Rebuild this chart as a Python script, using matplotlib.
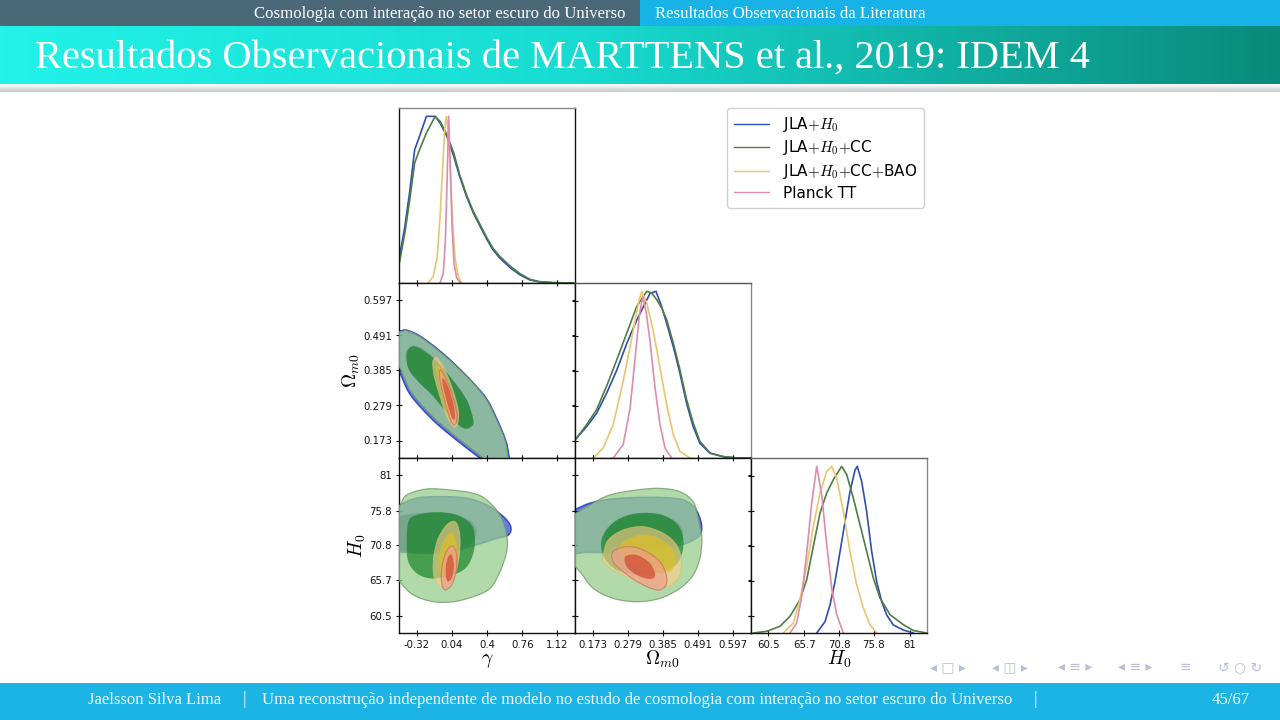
import numpy as np
import matplotlib
matplotlib.use("Agg")
import matplotlib.pyplot as plt
from matplotlib.path import Path
from matplotlib.patches import PathPatch, Rectangle
from matplotlib.lines import Line2D
from matplotlib.colors import LinearSegmentedColormap

plt.rcParams['mathtext.fontset'] = 'cm'
plt.rcParams['font.family'] = ['DejaVu Sans']

# ---------------- data ----------------
GAMMA_TICKS = [-0.32, 0.04, 0.4, 0.76, 1.12]
OMEGA_TICKS = [0.173, 0.279, 0.385, 0.491, 0.597]
H0_TICKS = [60.5, 65.7, 70.8, 75.8, 81]
GAMMA_LIM = (-0.5, 1.3)
OMEGA_LIM = (0.12, 0.65)
H0_LIM = (58, 83.5)

LABELS = ['JLA${+}H_0$', 'JLA${+}H_0{+}$CC', 'JLA${+}H_0{+}$CC${+}$BAO', 'Planck TT']

# 1D marginals (normalised to peak)
gam_x = [-0.50, -0.44, -0.39, -0.34, -0.29, -0.22, -0.13, -0.08, -0.01, 0.06, 0.12, 0.19,
         0.26, 0.33, 0.40, 0.46, 0.53, 0.64, 0.74, 0.84, 0.94, 1.08, 1.28]
gam_p_jla = [0.14, 0.34, 0.55, 0.80, 0.88, 1.0, 1.0, 0.96, 0.88, 0.76, 0.64, 0.52,
             0.42, 0.34, 0.26, 0.20, 0.15, 0.09, 0.048, 0.018, 0.006, 0.002, 0.0]
gam_p_cc = [0.11, 0.30, 0.50, 0.72, 0.80, 0.90, 1.0, 0.97, 0.89, 0.78, 0.65, 0.53,
            0.43, 0.35, 0.27, 0.21, 0.16, 0.10, 0.055, 0.022, 0.008, 0.002, 0.0]
gam_x_bao = [-0.20, -0.15, -0.11, -0.08, -0.053, -0.033, -0.016, 0.0, 0.022, 0.045, 0.073, 0.106, 0.14]
gam_p_bao = [0.0, 0.04, 0.15, 0.40, 0.70, 0.92, 1.0, 0.93, 0.70, 0.40, 0.15, 0.04, 0.0]
gam_x_pl = [-0.08, -0.047, -0.026, -0.009, 0.008, 0.025, 0.042, 0.062, 0.09, 0.13]
gam_p_pl = [0.0, 0.06, 0.25, 0.60, 1.0, 0.70, 0.35, 0.12, 0.03, 0.0]

om_x_jla = [0.12, 0.155, 0.185, 0.215, 0.246, 0.276, 0.306, 0.326, 0.346, 0.364, 0.381,
            0.396, 0.416, 0.436, 0.456, 0.476, 0.496, 0.527, 0.567, 0.607, 0.65]
om_p_jla = [0.108, 0.188, 0.268, 0.388, 0.528, 0.688, 0.828, 0.908, 0.988, 1.0, 0.908,
            0.808, 0.668, 0.508, 0.328, 0.188, 0.088, 0.028, 0.008, 0.0, 0.0]
om_x_cc = [0.12, 0.155, 0.185, 0.215, 0.246, 0.276, 0.306, 0.336, 0.351, 0.366, 0.381,
           0.396, 0.416, 0.436, 0.456, 0.476, 0.496, 0.527, 0.567, 0.607]
om_p_cc = [0.108, 0.20, 0.29, 0.43, 0.59, 0.75, 0.91, 1.0, 0.99, 0.95, 0.90,
           0.83, 0.69, 0.53, 0.35, 0.21, 0.10, 0.03, 0.008, 0.0]
om_x_bao = [0.175, 0.205, 0.235, 0.265, 0.291, 0.311, 0.321, 0.336, 0.356, 0.376, 0.396, 0.416, 0.436, 0.466]
om_p_bao = [0.0, 0.06, 0.20, 0.46, 0.72, 0.93, 1.0, 0.93, 0.76, 0.54, 0.32, 0.14, 0.04, 0.0]
om_x_pl = [0.235, 0.265, 0.286, 0.301, 0.314, 0.324, 0.334, 0.346, 0.361, 0.376, 0.391, 0.411]
om_p_pl = [0.0, 0.08, 0.30, 0.60, 0.86, 0.97, 0.88, 0.70, 0.42, 0.20, 0.06, 0.0]

h_x_jla = [67.52, 68.72, 69.45, 70.17, 70.90, 71.62, 72.34, 73.07, 73.40, 74.04, 74.76,
           75.49, 76.21, 76.94, 77.66, 78.62, 80.07, 81.52]
h_p_jla = [0.0, 0.068, 0.168, 0.308, 0.488, 0.668, 0.848, 0.978, 1.0, 0.908, 0.728,
           0.488, 0.308, 0.188, 0.108, 0.048, 0.018, 0.0]
h_x_cc = [58.33, 60.27, 62.20, 63.65, 65.10, 66.07, 67.03, 68.0, 68.97, 69.93, 71.14,
          71.87, 72.82, 73.79, 74.76, 75.72, 76.69, 78.14, 80.07, 81.52, 83.46]
h_p_cc = [0.0, 0.01, 0.04, 0.10, 0.20, 0.32, 0.52, 0.72, 0.84, 0.92, 1.0,
          0.95, 0.81, 0.65, 0.49, 0.33, 0.21, 0.11, 0.05, 0.015, 0.0]
h_x_bao = [62.68, 64.13, 65.10, 66.07, 67.03, 68.0, 68.97, 69.69, 70.42, 71.38, 72.34, 73.31, 74.27, 75.24, 76.21]
h_p_bao = [0.0, 0.06, 0.20, 0.40, 0.64, 0.84, 0.97, 1.0, 0.93, 0.73, 0.49, 0.29, 0.15, 0.05, 0.0]
h_x_pl = [63.65, 64.62, 65.35, 66.07, 66.80, 67.52, 68.24, 68.97, 69.69, 70.42, 71.38]
h_p_pl = [0.0, 0.06, 0.22, 0.48, 0.78, 1.0, 0.83, 0.53, 0.27, 0.11, 0.0]

# 2D contour outlines (68% / 95%), (x, y) in data units
om_g_jla_2s = [(-0.60, 0.51), (-0.49, 0.505), (-0.421, 0.507), (-0.285, 0.489), (-0.081, 0.444), (0.09, 0.398),
               (0.26, 0.347), (0.40, 0.297), (0.505, 0.235), (0.592, 0.172), (0.625, 0.124), (0.64, 0.08),
               (0.49, 0.08), (0.35, 0.115), (0.185, 0.152), (-0.09, 0.218), (-0.26, 0.268), (-0.397, 0.318),
               (-0.50, 0.384), (-0.60, 0.43)]
om_g_jla_1s = [(-0.43, 0.44), (-0.37, 0.46), (-0.28, 0.455), (-0.15, 0.425), (0.02, 0.368), (0.19, 0.298),
               (0.255, 0.238), (0.24, 0.218), (0.155, 0.213), (0.02, 0.248), (-0.15, 0.309), (-0.32, 0.359),
               (-0.41, 0.396)]
om_g_cc_2s = [(-0.60, 0.505), (-0.49, 0.5025), (-0.421, 0.5056), (-0.285, 0.487), (-0.081, 0.442), (0.09, 0.3965),
              (0.26, 0.346), (0.397, 0.2957), (0.499, 0.235), (0.584, 0.1745), (0.615, 0.124), (0.63, 0.08),
              (0.50, 0.08), (0.362, 0.12), (0.192, 0.159), (-0.081, 0.225), (-0.251, 0.275), (-0.387, 0.326),
              (-0.49, 0.392), (-0.60, 0.44)]
om_g_cc_1s = [(-0.421, 0.437), (-0.370, 0.457), (-0.285, 0.452), (-0.149, 0.422), (0.022, 0.366), (0.192, 0.296),
              (0.260, 0.235), (0.243, 0.215), (0.158, 0.210), (0.022, 0.245), (-0.149, 0.306), (-0.319, 0.356),
              (-0.405, 0.392)]
om_g_bao_2s = [(-0.149, 0.417), (-0.114, 0.425), (-0.047, 0.397), (0.039, 0.336), (0.106, 0.265), (0.096, 0.220),
               (0.055, 0.215), (-0.012, 0.245), (-0.081, 0.306), (-0.139, 0.366), (-0.155, 0.402)]
om_g_bao_1s = [(-0.108, 0.402), (-0.047, 0.381), (0.022, 0.326), (0.073, 0.265), (0.062, 0.235), (0.022, 0.235),
               (-0.030, 0.275), (-0.081, 0.336), (-0.114, 0.377)]
om_g_pl_2s = [(-0.081, 0.387), (-0.030, 0.366), (0.039, 0.316), (0.090, 0.255), (0.083, 0.225), (0.049, 0.223),
              (0.004, 0.255), (-0.047, 0.311), (-0.081, 0.356)]
om_g_pl_1s = [(-0.047, 0.361), (0.004, 0.336), (0.055, 0.286), (0.073, 0.245), (0.045, 0.240), (0.004, 0.275),
              (-0.037, 0.321), (-0.057, 0.351)]

h_g_jla_2s = [(-0.592, 75.67), (-0.490, 76.65), (-0.319, 77.63), (-0.081, 77.86), (0.192, 77.63), (0.397, 76.65),
              (0.567, 74.95), (0.642, 73.49), (0.618, 72.28), (0.499, 71.80), (0.260, 70.72), (0.022, 69.85),
              (-0.217, 69.61), (-0.421, 69.76), (-0.490, 69.85), (-0.592, 70.82)]
h_g_jla_1s = [(-0.541, 74.47), (-0.285, 75.48), (0.022, 75.48), (0.247, 74.17), (0.288, 72.28), (0.175, 70.39),
              (-0.081, 69.66), (-0.387, 69.80), (-0.541, 70.39)]
h_g_cc_2s = [(-0.592, 75.19), (-0.490, 76.65), (-0.421, 78.11), (-0.217, 78.98), (0.022, 78.84), (0.260, 78.36),
             (0.397, 77.38), (0.533, 75.19), (0.601, 72.28), (0.601, 69.85), (0.533, 66.93), (0.431, 64.51),
             (0.260, 63.29), (0.055, 62.56), (-0.149, 62.56), (-0.354, 63.54), (-0.490, 65.48), (-0.592, 67.91)]
h_g_cc_1s = [(-0.405, 74.22), (-0.319, 75.19), (-0.114, 75.59), (0.090, 75.19), (0.243, 73.74), (0.277, 71.30),
             (0.243, 68.88), (0.158, 67.18), (-0.012, 66.20), (-0.183, 65.97), (-0.319, 66.70), (-0.405, 68.39),
             (-0.421, 70.82)]
h_g_bao_2s = [(0.073, 74.22), (0.117, 72.76), (0.124, 70.82), (0.106, 68.39), (0.055, 65.97), (-0.030, 64.75),
              (-0.114, 65.24), (-0.149, 66.93), (-0.142, 69.37), (-0.098, 71.80), (-0.012, 73.74)]
h_g_bao_1s = [(0.055, 72.53), (0.090, 70.82), (0.083, 68.39), (0.039, 66.45), (-0.030, 65.97), (-0.081, 66.93),
              (-0.088, 69.37), (-0.047, 71.30), (0.004, 72.38)]
h_g_pl_2s = [(0.055, 70.58), (0.090, 69.37), (0.083, 66.93), (0.039, 64.99), (-0.030, 64.27), (-0.063, 65.24),
             (-0.063, 67.43), (-0.030, 69.37), (0.014, 70.43)]
h_g_pl_1s = [(0.039, 69.37), (0.062, 67.91), (0.045, 66.20), (0.004, 65.48), (-0.019, 66.20), (-0.019, 67.91),
             (0.004, 69.12)]

h_om_jla_2s = [(0.08, 75.6), (0.120, 76.02), (0.165, 76.90), (0.225, 77.48), (0.306, 77.72), (0.386, 77.72),
               (0.446, 77.38), (0.481, 76.17), (0.499, 74.22), (0.499, 72.53), (0.476, 71.55), (0.436, 70.82),
               (0.356, 70.09), (0.256, 69.76), (0.155, 69.76), (0.08, 69.9)]
h_om_jla_1s = [(0.215, 73.26), (0.276, 74.95), (0.356, 75.30), (0.426, 74.22), (0.446, 72.28), (0.426, 71.07),
               (0.356, 70.43), (0.256, 70.43), (0.215, 71.30)]
h_om_cc_2s = [(0.09, 74.0), (0.165, 76.65), (0.225, 78.11), (0.306, 78.84), (0.376, 79.08), (0.436, 78.59),
              (0.476, 77.13), (0.491, 74.71), (0.502, 71.80), (0.496, 68.88), (0.476, 66.45), (0.436, 64.51),
              (0.376, 63.05), (0.306, 62.56), (0.235, 63.05), (0.175, 64.51), (0.135, 66.93), (0.09, 69.5)]
h_om_cc_1s = [(0.205, 72.28), (0.246, 74.47), (0.306, 75.44), (0.376, 75.30), (0.426, 73.98), (0.446, 71.80),
              (0.441, 69.37), (0.416, 67.66), (0.356, 66.70), (0.276, 66.70), (0.225, 67.91), (0.200, 70.09)]
h_om_bao_2s = [(0.205, 69.37), (0.220, 71.55), (0.265, 73.01), (0.326, 73.49), (0.386, 72.53), (0.426, 70.82),
               (0.441, 68.39), (0.431, 65.97), (0.396, 64.75), (0.346, 64.99), (0.286, 65.97), (0.235, 67.18),
               (0.205, 68.39)]
h_om_bao_1s = [(0.256, 70.82), (0.296, 72.04), (0.346, 72.28), (0.396, 71.07), (0.421, 69.37), (0.416, 67.43),
               (0.386, 66.70), (0.336, 67.18), (0.286, 68.39), (0.256, 69.61)]
h_om_pl_2s = [(0.235, 69.85), (0.276, 70.58), (0.326, 70.09), (0.376, 68.39), (0.396, 66.20), (0.391, 64.75),
              (0.366, 64.27), (0.316, 65.24), (0.265, 66.93), (0.235, 68.39)]
h_om_pl_1s = [(0.271, 69.12), (0.306, 69.37), (0.346, 68.16), (0.361, 66.45), (0.346, 65.87), (0.306, 66.45),
              (0.276, 67.66)]

# ---------------- styles ----------------
LINE_COLORS = ['#2f4fb0', '#4e7d46', '#e8c670', '#dc8cae']
FILL_2S = [('#6a7ee0', 1.0, '#3a4fc8', 1.2), ('#98cd8d', 0.75, '#6d9860', 0.9),
           ('#ffcd89', 0.6, '#d8c070', 0.8), ('#f0a08a', 0.7, '#c8705a', 0.8)]
FILL_1S = [('#1e3296', 1.0), ('#0c811f', 0.65), ('#ddbf25', 0.7), ('#d14d37', 0.75)]


def smooth_path(pts):
    p = np.asarray(pts, float)
    n = len(p)
    verts, codes = [p[0]], [Path.MOVETO]
    for i in range(n):
        p0, p1, p2, p3 = p[i - 1], p[i], p[(i + 1) % n], p[(i + 2) % n]
        verts += [p1 + (p2 - p0) / 6, p2 - (p3 - p1) / 6, p2]
        codes += [Path.CURVE4] * 3
    verts.append(p[0])
    codes.append(Path.CLOSEPOLY)
    return Path(verts, codes)


def draw_2d(ax, outer, inner):
    for k in range(4):
        fc, a, ec, lw = FILL_2S[k]
        ax.add_patch(PathPatch(smooth_path(outer[k]), facecolor=fc, alpha=a, edgecolor=ec, lw=lw, zorder=1 + 2 * k))
        fc, a = FILL_1S[k]
        ax.add_patch(PathPatch(smooth_path(inner[k]), facecolor=fc, alpha=a, edgecolor='none', zorder=2 + 2 * k))


def panel(col, row):
    x0 = 399 + 176 * col
    y1 = 108 + 175 * row + 175
    return fig.add_axes([x0 / 1280, 1 - y1 / 720, 176 / 1280, 175 / 720])


def base_style(ax):
    for s in ax.spines.values():
        s.set_color('#111111')
        s.set_linewidth(1.0)
    ax.tick_params(direction='inout', length=4, width=0.8, labelsize=7.3, colors='#111111', pad=3)


fig = plt.figure(figsize=(12.8, 7.2), dpi=100)
fig.patch.set_facecolor('white')

# ---------------- slide decorations ----------------
fig.add_artist(Rectangle((0, 1 - 26 / 720), 0.5, 26 / 720, transform=fig.transFigure, color='#4b6878', lw=0))
fig.add_artist(Rectangle((0.5, 1 - 26 / 720), 0.5, 26 / 720, transform=fig.transFigure, color='#17b3e6', lw=0))
fig.add_artist(Rectangle((0, 0), 1, 37 / 720, transform=fig.transFigure, color='#1cb4e4', lw=0))

ax_bar = fig.add_axes([0, 1 - 84 / 720, 1, 58 / 720])
bar_cmap = LinearSegmentedColormap.from_list('bar', [(0, '#22f2e8'), (0.45, '#18dcd2'), (1, '#0a8a7a')])
ax_bar.imshow(np.linspace(0, 1, 256)[None, :], aspect='auto', cmap=bar_cmap, extent=[0, 1, 0, 1])
ax_bar.axis('off')
ax_sh = fig.add_axes([0, 1 - 92 / 720, 1, 8 / 720])
sh_cmap = LinearSegmentedColormap.from_list('sh', ['#ffffff', '#c4cacc'])
ax_sh.imshow(np.linspace(0, 1, 32)[:, None], aspect='auto', cmap=sh_cmap, extent=[0, 1, 0, 1])
ax_sh.axis('off')

serif = ['Liberation Serif', 'DejaVu Serif']
fig.text(625 / 1280, 1 - 14 / 720, 'Cosmologia com interação no setor escuro do Universo', family=serif,
         fontsize=12.1, color='white', ha='right', va='center')
fig.text(655 / 1280, 1 - 14 / 720, 'Resultados Observacionais da Literatura', family=serif,
         fontsize=12.1, color='white', ha='left', va='center')
fig.text(35 / 1280, 1 - 58 / 720, 'Resultados Observacionais de MARTTENS et al., 2019: IDEM 4', family=serif,
         fontsize=29.2, color='white', ha='left', va='center')
fig.text(155 / 1280, 1 - 700 / 720, 'Jaelsson Silva Lima', family=serif, fontsize=12, color='#eef8ff',
         ha='center', va='center')
fig.text(244 / 1280, 1 - 700 / 720, '|', family=serif, fontsize=13, color='#eef8ff', ha='center', va='center')
fig.text(262 / 1280, 1 - 700 / 720,
         'Uma reconstrução independente de modelo no estudo de cosmologia com interação no setor escuro do Universo',
         family=serif, fontsize=12.1, color='#eef8ff', ha='left', va='center')
fig.text(1035 / 1280, 1 - 700 / 720, '|', family=serif, fontsize=13, color='#eef8ff', ha='center', va='center')
fig.text(1250 / 1280, 1 - 700 / 720, '45/67', family=serif, fontsize=12, color='#eef8ff', ha='right', va='center')
for xp, sym in [(948, '◂ □ ▸'), (1010, '◂ ◫ ▸'), (1075, '◂ ≡ ▸'), (1135, '◂ ≡ ▸'), (1185, '≡'), (1240, '↺ ○ ↻')]:
    fig.text(xp / 1280, 1 - 667 / 720, sym, fontsize=10, color='#b8c0d8', ha='center', va='center')

# ---------------- corner plot ----------------
norm_lim = (0, 1.05)
diag_ticks = [0.105, 0.315, 0.525, 0.735, 0.945]

ax00 = panel(0, 0)
base_style(ax00)
for xs, ps, c in [(gam_x, gam_p_jla, LINE_COLORS[0]), (gam_x, gam_p_cc, LINE_COLORS[1]),
                  (gam_x_bao, gam_p_bao, LINE_COLORS[2]), (gam_x_pl, gam_p_pl, LINE_COLORS[3])]:
    ax00.plot(xs, ps, color=c, lw=1.2)
ax00.set_xlim(GAMMA_LIM)
ax00.set_ylim(norm_lim)
ax00.set_xticks(GAMMA_TICKS)
ax00.set_xticklabels([])
ax00.set_yticks([])
ax00.spines['top'].set_color('#888888')

ax10 = panel(0, 1)
base_style(ax10)
draw_2d(ax10, [om_g_jla_2s, om_g_cc_2s, om_g_bao_2s, om_g_pl_2s], [om_g_jla_1s, om_g_cc_1s, om_g_bao_1s, om_g_pl_1s])
ax10.set_xlim(GAMMA_LIM)
ax10.set_ylim(OMEGA_LIM)
ax10.set_xticks(GAMMA_TICKS)
ax10.set_xticklabels([])
ax10.set_yticks(OMEGA_TICKS)
ax10.set_yticklabels([str(v) for v in OMEGA_TICKS])
ax10.tick_params(top=True, right=True)
ax10.set_ylabel(r'$\Omega_{m0}$', fontsize=14, labelpad=1)

ax11 = panel(1, 1)
base_style(ax11)
for xs, ps, c in [(om_x_jla, om_p_jla, LINE_COLORS[0]), (om_x_cc, om_p_cc, LINE_COLORS[1]),
                  (om_x_bao, om_p_bao, LINE_COLORS[2]), (om_x_pl, om_p_pl, LINE_COLORS[3])]:
    ax11.plot(xs, ps, color=c, lw=1.2)
ax11.set_xlim(OMEGA_LIM)
ax11.set_ylim(norm_lim)
ax11.set_xticks(OMEGA_TICKS)
ax11.set_xticklabels([])
ax11.set_yticks(diag_ticks)
ax11.set_yticklabels([])
ax11.spines['top'].set_color('#555555')
ax11.spines['right'].set_color('#888888')

ax20 = panel(0, 2)
base_style(ax20)
draw_2d(ax20, [h_g_jla_2s, h_g_cc_2s, h_g_bao_2s, h_g_pl_2s], [h_g_jla_1s, h_g_cc_1s, h_g_bao_1s, h_g_pl_1s])
ax20.set_xlim(GAMMA_LIM)
ax20.set_ylim(H0_LIM)
ax20.set_xticks(GAMMA_TICKS)
ax20.set_xticklabels([str(v) for v in GAMMA_TICKS])
ax20.set_yticks(H0_TICKS)
ax20.set_yticklabels([str(v) for v in H0_TICKS])
ax20.tick_params(top=True, right=True)
ax20.set_ylabel(r'$H_0$', fontsize=14, labelpad=1)
ax20.set_xlabel(r'$\gamma$', fontsize=14, labelpad=1)

ax21 = panel(1, 2)
base_style(ax21)
draw_2d(ax21, [h_om_jla_2s, h_om_cc_2s, h_om_bao_2s, h_om_pl_2s], [h_om_jla_1s, h_om_cc_1s, h_om_bao_1s, h_om_pl_1s])
ax21.set_xlim(OMEGA_LIM)
ax21.set_ylim(H0_LIM)
ax21.set_xticks(OMEGA_TICKS)
ax21.set_xticklabels([str(v) for v in OMEGA_TICKS])
ax21.set_yticks(H0_TICKS)
ax21.set_yticklabels([])
ax21.tick_params(top=True, right=True)
ax21.set_xlabel(r'$\Omega_{m0}$', fontsize=14, labelpad=-1)

ax22 = panel(2, 2)
base_style(ax22)
for xs, ps, c in [(h_x_jla, h_p_jla, LINE_COLORS[0]), (h_x_cc, h_p_cc, LINE_COLORS[1]),
                  (h_x_bao, h_p_bao, LINE_COLORS[2]), (h_x_pl, h_p_pl, LINE_COLORS[3])]:
    ax22.plot(xs, ps, color=c, lw=1.2)
ax22.set_xlim(H0_LIM)
ax22.set_ylim(norm_lim)
ax22.set_xticks(H0_TICKS)
ax22.set_xticklabels([str(v) for v in H0_TICKS])
ax22.set_yticks(diag_ticks)
ax22.set_yticklabels([])
ax22.set_xlabel(r'$H_0$', fontsize=14, labelpad=-1)
ax22.spines['top'].set_color('#666666')
ax22.spines['right'].set_color('#888888')

handles = [Line2D([], [], color=c, lw=1.0) for c in LINE_COLORS]
leg = fig.legend(handles, LABELS, loc='upper left', bbox_to_anchor=(727 / 1280, 1 - 108 / 720),
                 borderaxespad=0, fontsize=11, handlelength=2.3, handletextpad=0.9, labelspacing=0.3,
                 borderpad=0.45, frameon=True, fancybox=True, edgecolor='#d0d0d0', framealpha=1)

fig.savefig('out.png', dpi=100)
